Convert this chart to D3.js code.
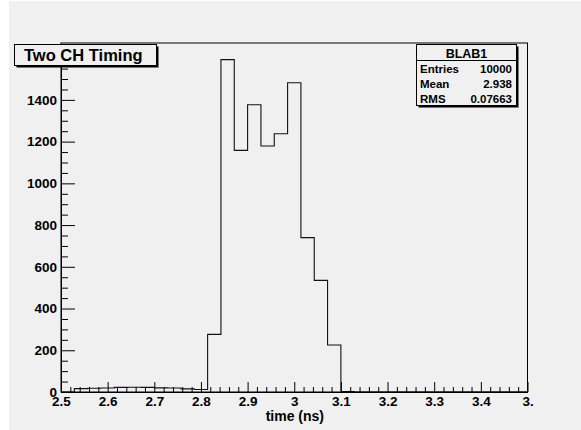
<!DOCTYPE html>
<html><head><meta charset="utf-8">
<script src="https://cdn.jsdelivr.net/npm/d3@7"></script>
<style>
html,body{margin:0;padding:0;background:#fff;}
svg{display:block;}
text{font-family:"Liberation Sans",Arial,Helvetica,sans-serif;font-weight:bold;fill:#000;}
</style></head>
<body>
<script>
// ---- data ----
const binEdgesRange = [2.5, 3.5];
const nBins = 35;
const binCounts = [0,16,18,19,22,23,22,20,19,15,12,276,1593,1158,1377,1179,1238,1482,740,535,225,2,0,0,0,0,0,0,0,0,0,0,0,0,0];
const xTickValues = [2.5,2.6,2.7,2.8,2.9,3.0,3.1,3.2,3.3,3.4,3.5];
const xTickLabels = ["2.5","2.6","2.7","2.8","2.9","3","3.1","3.2","3.3","3.4","3."];
const yTickValues = [0,200,400,600,800,1000,1200,1400];
const yTickLabels = ["0","200","400","600","800","1000","1200","1400"];
const titleText = "Two CH Timing";
const xTitle = "time (ns)";
const statsName = "BLAB1";
const statsLabels = ["Entries","Mean","RMS"];
const statsValues = ["10000","2.938","0.07663"];

const W = 581, H = 430;
const svg = d3.select("body").append("svg").attr("width", W).attr("height", H);

// canvas background
svg.append("rect").attr("x",9).attr("y",1).attr("width",W-9).attr("height",H-1).attr("fill","#f0f0f0");

const plot = {l:61, r:527.5, t:43, b:392};
const yMax = d3.max(binCounts)*1.05;
const x = d3.scaleLinear().domain(binEdgesRange).range([plot.l, plot.r]);
const y = d3.scaleLinear().domain([0, yMax]).range([plot.b, plot.t]);

// histogram path
const bw = (binEdgesRange[1]-binEdgesRange[0])/nBins;
const pts = [[x(binEdgesRange[0]), y(0)]];
binCounts.forEach((c,i)=>{
  const x0 = binEdgesRange[0]+i*bw, x1 = x0+bw;
  pts.push([x(x0), y(c)]); pts.push([x(x1), y(c)]);
});
pts.push([x(binEdgesRange[1]), y(0)]);
svg.append("path").attr("d", d3.line()(pts)).attr("fill","none").attr("stroke","#111").attr("stroke-width",1.1);

// frame
svg.append("rect").attr("x",plot.l).attr("y",plot.t).attr("width",plot.r-plot.l).attr("height",plot.b-plot.t)
  .attr("fill","none").attr("stroke","#000").attr("stroke-width",1);

// x axis
const xMinor = d3.range(0,51).map(i=>2.5+i*0.02).filter(v=>Math.abs(v*10-Math.round(v*10))>1e-6);
const gxm = svg.append("g").attr("transform",`translate(0,${plot.b})`)
  .call(d3.axisBottom(x).tickValues(xMinor).tickSizeInner(-5).tickSizeOuter(0).tickFormat(""));
gxm.select(".domain").remove();
const gx = svg.append("g").attr("transform",`translate(0,${plot.b})`)
  .call(d3.axisBottom(x).tickValues(xTickValues).tickSizeInner(-10).tickSizeOuter(0).tickPadding(4)
    .tickFormat((d,i)=>xTickLabels[i]));
gx.select(".domain").attr("stroke","#000");
gx.selectAll("text").style("font-size","13.5px").attr("font-family",null);

// y axis
const yMinor = d3.range(0, yMax, 50).filter(v=>v%200!==0);
const gym = svg.append("g").attr("transform",`translate(${plot.l},0)`)
  .call(d3.axisLeft(y).tickValues(yMinor).tickSizeInner(-7).tickSizeOuter(0).tickFormat(""));
gym.select(".domain").remove();
const gy = svg.append("g").attr("transform",`translate(${plot.l},0)`)
  .call(d3.axisLeft(y).tickValues(yTickValues).tickSizeInner(-14).tickSizeOuter(0).tickPadding(4)
    .tickFormat((d,i)=>yTickLabels[i]));
gy.select(".domain").attr("stroke","#000");
gy.selectAll("text").style("font-size","13.5px").attr("font-family",null);
svg.selectAll(".tick line").attr("stroke","#000");

// x title
svg.append("text").attr("x",324).attr("y",421).attr("text-anchor","end").style("font-size","14px").text(xTitle);

// boxes with shadow
function shadowBox(x0,y0,w,h){
  svg.append("rect").attr("x",x0+2).attr("y",y0+2).attr("width",w).attr("height",h).attr("fill","#000");
  svg.append("rect").attr("x",x0).attr("y",y0).attr("width",w).attr("height",h).attr("fill","#f0f0f0").attr("stroke","#000").attr("stroke-width",1);
}
shadowBox(14.5,44.5,142,21);
svg.append("text").attr("x",24).attr("y",61).style("font-size","16.5px").text(titleText);

// stats box
const sb = {x:416.5, y:44.5, w:100, h:61};
shadowBox(sb.x, sb.y, sb.w, sb.h);
svg.append("line").attr("x1",sb.x).attr("x2",sb.x+sb.w).attr("y1",60.5).attr("y2",60.5).attr("stroke","#000");
svg.append("text").attr("x",sb.x+sb.w/2).attr("y",58).attr("text-anchor","middle").style("font-size","12.5px").text(statsName);
const rowY = [73.5, 88.5, 104];
statsLabels.forEach((l,i)=>{
  svg.append("text").attr("x",420).attr("y",rowY[i]-1).style("font-size","11.5px").text(l);
  svg.append("text").attr("x",512).attr("y",rowY[i]-1).attr("text-anchor","end").style("font-size","11.5px").text(statsValues[i]);
});
</script>
</body></html>
